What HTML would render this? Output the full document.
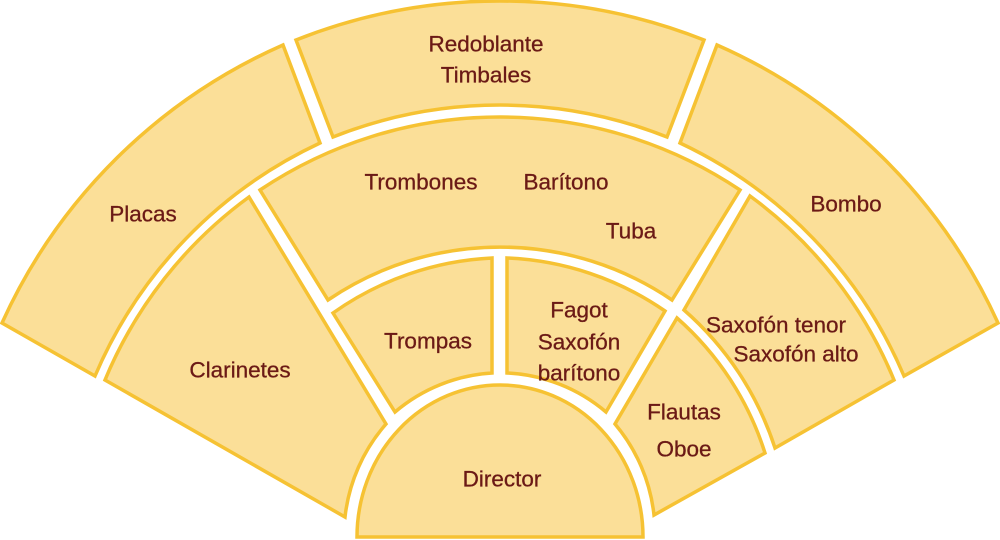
<!DOCTYPE html>
<html><head><meta charset="utf-8"><style>
html,body{margin:0;padding:0;background:#fff;width:1000px;height:540px;overflow:hidden}
svg{display:block}
path{fill:#fbdf98;stroke:#f6c233;stroke-width:3.5;stroke-linejoin:miter}
text{font-family:"Liberation Sans Narrow","Liberation Sans",sans-serif;font-size:22.5px;fill:#6b1a16;text-anchor:middle;dominant-baseline:central;stroke:#6b1a16;stroke-width:0.3}
</style></head><body>
<svg width="1000" height="540" viewBox="0 0 1000 540">
<path d="M296,40 A553,553 0 0 1 704,40 L667,137 A452,452 0 0 0 333,137 Z"/>
<path d="M283,45 L320,143 A452,452 0 0 0 95,376 L2,323 A553,553 0 0 1 283,45 Z"/>
<path d="M717,45 A553,553 0 0 1 998,323 L904,376 A452,452 0 0 0 680,143 Z"/>
<path d="M260,190 A431,431 0 0 1 740,190 L672,300 A306,306 0 0 0 328,300 Z"/>
<path d="M249,197 L386,424 A170,170 0 0 0 345,517 L105,380 A431,431 0 0 1 249,197 Z"/>
<path d="M750,196 A431,431 0 0 1 894,380 L775,448 A310,310 0 0 0 684,310 Z"/>
<path d="M333,313 A300,300 0 0 1 492,258 L492,373 A165,165 0 0 0 395,412 Z"/>
<path d="M507,258 A300,300 0 0 1 665,311 L606,412 A165,165 0 0 0 507,373 Z"/>
<path d="M677,318 A300,300 0 0 1 765,453 L654,515 A170,170 0 0 0 615,424 Z"/>
<path d="M357,537 A143,152 0 0 1 643,537 Z"/>
<text x="486" y="44">Redoblante</text>
<text x="486" y="75">Timbales</text>
<text x="143" y="214">Placas</text>
<text x="421" y="182">Trombones</text>
<text x="566" y="182">Barítono</text>
<text x="631" y="231">Tuba</text>
<text x="240" y="370">Clarinetes</text>
<text x="428" y="341">Trompas</text>
<text x="579" y="310">Fagot</text>
<text x="579" y="342">Saxofón</text>
<text x="579" y="373">barítono</text>
<text x="776" y="325">Saxofón tenor</text>
<text x="796" y="354">Saxofón alto</text>
<text x="846" y="204">Bombo</text>
<text x="684" y="412">Flautas</text>
<text x="684" y="449">Oboe</text>
<text x="502" y="479">Director</text>
</svg>
</body></html>
